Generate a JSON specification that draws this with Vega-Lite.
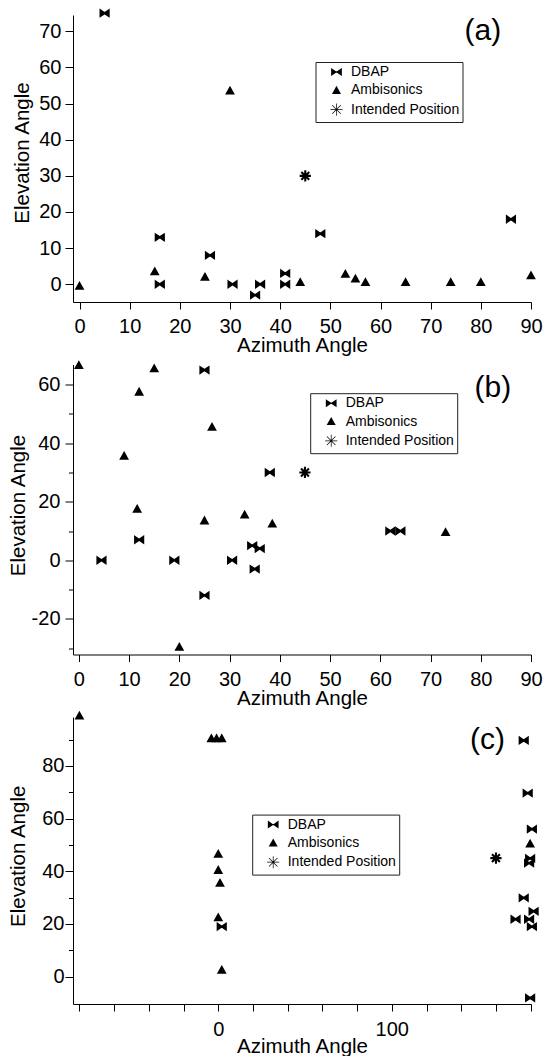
{
  "$schema": "https://vega.github.io/schema/vega-lite/v6.json",
  "padding": {"left": 7, "top": 6, "right": 0, "bottom": 0},
  "datasets": {
    "pts": [
      {"panel": "a", "method": "DBAP", "azimuth": 5, "elevation": 75},
      {"panel": "a", "method": "DBAP", "azimuth": 16, "elevation": 13},
      {"panel": "a", "method": "DBAP", "azimuth": 16, "elevation": 0},
      {"panel": "a", "method": "DBAP", "azimuth": 26, "elevation": 8},
      {"panel": "a", "method": "DBAP", "azimuth": 30.5, "elevation": 0},
      {"panel": "a", "method": "DBAP", "azimuth": 35, "elevation": -3},
      {"panel": "a", "method": "DBAP", "azimuth": 36, "elevation": 0},
      {"panel": "a", "method": "DBAP", "azimuth": 41, "elevation": 3},
      {"panel": "a", "method": "DBAP", "azimuth": 41, "elevation": 0},
      {"panel": "a", "method": "DBAP", "azimuth": 48, "elevation": 14},
      {"panel": "a", "method": "DBAP", "azimuth": 86, "elevation": 18},
      {"panel": "a", "method": "Ambisonics", "azimuth": 0, "elevation": -0.5},
      {"panel": "a", "method": "Ambisonics", "azimuth": 15, "elevation": 3.5},
      {"panel": "a", "method": "Ambisonics", "azimuth": 25, "elevation": 2},
      {"panel": "a", "method": "Ambisonics", "azimuth": 30, "elevation": 53.5},
      {"panel": "a", "method": "Ambisonics", "azimuth": 44, "elevation": 0.5},
      {"panel": "a", "method": "Ambisonics", "azimuth": 53, "elevation": 2.8},
      {"panel": "a", "method": "Ambisonics", "azimuth": 55, "elevation": 1.5},
      {"panel": "a", "method": "Ambisonics", "azimuth": 57, "elevation": 0.5},
      {"panel": "a", "method": "Ambisonics", "azimuth": 65, "elevation": 0.5},
      {"panel": "a", "method": "Ambisonics", "azimuth": 74, "elevation": 0.5},
      {"panel": "a", "method": "Ambisonics", "azimuth": 80, "elevation": 0.5},
      {"panel": "a", "method": "Ambisonics", "azimuth": 90, "elevation": 2.4},
      {"panel": "a", "method": "Intended Position", "azimuth": 45, "elevation": 30},
      {"panel": "b", "method": "DBAP", "azimuth": 25, "elevation": 65},
      {"panel": "b", "method": "DBAP", "azimuth": 38, "elevation": 30},
      {"panel": "b", "method": "DBAP", "azimuth": 12, "elevation": 7},
      {"panel": "b", "method": "DBAP", "azimuth": 4.5, "elevation": 0},
      {"panel": "b", "method": "DBAP", "azimuth": 19, "elevation": 0},
      {"panel": "b", "method": "DBAP", "azimuth": 30.5, "elevation": 0},
      {"panel": "b", "method": "DBAP", "azimuth": 34.5, "elevation": 5},
      {"panel": "b", "method": "DBAP", "azimuth": 36, "elevation": 4},
      {"panel": "b", "method": "DBAP", "azimuth": 35, "elevation": -3},
      {"panel": "b", "method": "DBAP", "azimuth": 25, "elevation": -12},
      {"panel": "b", "method": "DBAP", "azimuth": 62, "elevation": 10},
      {"panel": "b", "method": "DBAP", "azimuth": 64, "elevation": 10},
      {"panel": "b", "method": "Ambisonics", "azimuth": 0, "elevation": 66.6},
      {"panel": "b", "method": "Ambisonics", "azimuth": 15, "elevation": 65.5},
      {"panel": "b", "method": "Ambisonics", "azimuth": 12, "elevation": 57.5},
      {"panel": "b", "method": "Ambisonics", "azimuth": 26.5, "elevation": 45.5},
      {"panel": "b", "method": "Ambisonics", "azimuth": 9, "elevation": 35.6},
      {"panel": "b", "method": "Ambisonics", "azimuth": 11.6, "elevation": 17.5},
      {"panel": "b", "method": "Ambisonics", "azimuth": 25, "elevation": 13.5},
      {"panel": "b", "method": "Ambisonics", "azimuth": 33, "elevation": 15.5},
      {"panel": "b", "method": "Ambisonics", "azimuth": 38.5, "elevation": 12.4},
      {"panel": "b", "method": "Ambisonics", "azimuth": 73, "elevation": 9.5},
      {"panel": "b", "method": "Ambisonics", "azimuth": 20, "elevation": -29.7},
      {"panel": "b", "method": "Intended Position", "azimuth": 45, "elevation": 30},
      {"panel": "c", "method": "DBAP", "azimuth": 2, "elevation": 19},
      {"panel": "c", "method": "DBAP", "azimuth": 176, "elevation": 89.7},
      {"panel": "c", "method": "DBAP", "azimuth": 178.3, "elevation": 69.7},
      {"panel": "c", "method": "DBAP", "azimuth": 180.7, "elevation": 56},
      {"panel": "c", "method": "DBAP", "azimuth": 179.7, "elevation": 44.9},
      {"panel": "c", "method": "DBAP", "azimuth": 179.1, "elevation": 43.1},
      {"panel": "c", "method": "DBAP", "azimuth": 176, "elevation": 29.9},
      {"panel": "c", "method": "DBAP", "azimuth": 181.7, "elevation": 24.8},
      {"panel": "c", "method": "DBAP", "azimuth": 171.3, "elevation": 21.8},
      {"panel": "c", "method": "DBAP", "azimuth": 179.1, "elevation": 21.8},
      {"panel": "c", "method": "DBAP", "azimuth": 180.7, "elevation": 19},
      {"panel": "c", "method": "DBAP", "azimuth": 179.7, "elevation": -8.1},
      {"panel": "c", "method": "Ambisonics", "azimuth": -80, "elevation": 99},
      {"panel": "c", "method": "Ambisonics", "azimuth": -4, "elevation": 90.4},
      {"panel": "c", "method": "Ambisonics", "azimuth": -1, "elevation": 90.4},
      {"panel": "c", "method": "Ambisonics", "azimuth": 2, "elevation": 90.4},
      {"panel": "c", "method": "Ambisonics", "azimuth": 0, "elevation": 46.5},
      {"panel": "c", "method": "Ambisonics", "azimuth": 0, "elevation": 40.4},
      {"panel": "c", "method": "Ambisonics", "azimuth": 1, "elevation": 35.5},
      {"panel": "c", "method": "Ambisonics", "azimuth": 0, "elevation": 22.4},
      {"panel": "c", "method": "Ambisonics", "azimuth": 2, "elevation": 2.5},
      {"panel": "c", "method": "Ambisonics", "azimuth": 179.7, "elevation": 50.4},
      {"panel": "c", "method": "Intended Position", "azimuth": 160, "elevation": 45}
    ]
  },
  "spacing": 62.5,
  "bounds": "flush",
  "resolve": {"scale": {"shape": "independent"}, "legend": {"shape": "independent"}},
  "vconcat": [
    {
      "width": 458, "height": 287,
      "resolve": {"axis": {"x": "independent", "y": "independent"}},
      "layer": [
        {
          "data": {"name": "pts"},
          "transform": [{"filter": "datum.panel == 'a'"}],
          "mark": {"type": "point", "filled": true, "color": "black", "stroke": "black", "strokeWidth": 1.5, "opacity": 1, "size": 52},
          "encoding": {
            "x": {"field": "azimuth", "type": "quantitative", "scale": {"domain": [-1.3, 90], "nice": false, "zero": false},
                  "axis": {"title": "Azimuth Angle", "values": [0,10,20,30,40,50,60,70,80,90], "labelPadding": 23.5, "labelBaseline": "alphabetic", "titleBaseline": "alphabetic", "titleY": 49.5}},
            "y": {"field": "elevation", "type": "quantitative", "scale": {"domain": [-4.9, 74.5], "nice": false, "zero": false},
                  "axis": {"title": "Elevation Angle", "values": [0,10,20,30,40,50,60,70], "tickSize": 8, "labelPadding": 4, "titleBaseline": "alphabetic", "titleX": -45, "titleY": 137.5}},
            "shape": {"field": "method", "type": "nominal",
              "scale": {"domain": ["DBAP", "Ambisonics", "Intended Position"],
                        "range": ["M-1.2,-0.9L-0.12,-0.16L0.12,-0.16L1.2,-0.9L1.2,0.9L0.12,0.16L-0.12,0.16L-1.2,0.9Z", "M0,-1L1,0.8L-1,0.8Z", "M-1.35,-0.08L1.35,-0.08L1.35,0.08L-1.35,0.08ZM-0.08,-1.35L0.08,-1.35L0.08,1.35L-0.08,1.35ZM-0.894,-1.006L1.006,0.894L0.894,1.006L-1.006,-0.894ZM-1.006,0.894L0.894,-1.006L1.006,-0.894L-0.894,1.006Z"]},
              "legend": {"orient": "none", "legendX": 242.5, "legendY": 47,
                         "encode": {"symbols": {"update": {"stroke": {"value": "black"}, "strokeWidth": {"value": 1.5}, "fill": {"value": "black"}, "opacity": {"value": 1}}}}}}
          }
        },
        {
          "data": {"values": [{}]},
          "mark": {"type": "text", "fontSize": 30, "font": "Liberation Sans", "align": "center", "baseline": "middle", "color": "black"},
          "encoding": {
            "x": {"datum": 80.4, "type": "quantitative", "axis": null},
            "y": {"datum": 70.1, "type": "quantitative", "axis": null},
            "text": {"value": "(a)"}
          }
        }
      ]
    },
    {
      "width": 458, "height": 290,
      "resolve": {"axis": {"x": "independent", "y": "independent"}},
      "layer": [
        {
          "data": {"name": "pts"},
          "transform": [{"filter": "datum.panel == 'b'"}],
          "mark": {"type": "point", "filled": true, "color": "black", "stroke": "black", "strokeWidth": 1.5, "opacity": 1, "size": 52},
          "encoding": {
            "x": {"field": "azimuth", "type": "quantitative", "scale": {"domain": [-1.17, 90], "nice": false, "zero": false},
                  "axis": {"title": "Azimuth Angle", "values": [0,10,20,30,40,50,60,70,80,90], "labelPadding": 23.5, "labelBaseline": "alphabetic", "titleBaseline": "alphabetic", "titleY": 49.5}},
            "y": {"field": "elevation", "type": "quantitative", "scale": {"domain": [-32.2, 66.9], "nice": false, "zero": false},
                  "axis": {"title": "Elevation Angle", "values": [-20,0,20,40,60], "labelExpr": "replace(datum.label, '\u2212', '-')", "tickSize": 8, "labelPadding": 5, "titleBaseline": "alphabetic", "titleX": -49, "titleY": 140.5}},
            "shape": {"field": "method", "type": "nominal",
              "scale": {"domain": ["DBAP", "Ambisonics", "Intended Position"],
                        "range": ["M-1.2,-0.9L-0.12,-0.16L0.12,-0.16L1.2,-0.9L1.2,0.9L0.12,0.16L-0.12,0.16L-1.2,0.9Z", "M0,-1L1,0.8L-1,0.8Z", "M-1.35,-0.08L1.35,-0.08L1.35,0.08L-1.35,0.08ZM-0.08,-1.35L0.08,-1.35L0.08,1.35L-0.08,1.35ZM-0.894,-1.006L1.006,0.894L0.894,1.006L-1.006,-0.894ZM-1.006,0.894L0.894,-1.006L1.006,-0.894L-0.894,1.006Z"]},
              "legend": {"orient": "none", "legendX": 237.2, "legendY": 28.7,
                         "encode": {"symbols": {"update": {"stroke": {"value": "black"}, "strokeWidth": {"value": 1.5}, "fill": {"value": "black"}, "opacity": {"value": 1}}}}}}
          }
        },
        {
          "data": {"name": "pts"},
          "transform": [{"filter": "datum.panel == 'b'"}],
          "mark": {"type": "point", "opacity": 0},
          "encoding": {
            "x": {"field": "azimuth", "type": "quantitative", "axis": null},
            "y": {"field": "elevation", "type": "quantitative",
                  "axis": {"orient": "left", "title": null, "values": [-30,-10,10,30,50], "labels": false, "domain": false, "tickSize": 4.5}}
          }
        },
        {
          "data": {"values": [{}]},
          "mark": {"type": "text", "fontSize": 30, "font": "Liberation Sans", "align": "center", "baseline": "middle", "color": "black"},
          "encoding": {
            "x": {"datum": 82.4, "type": "quantitative", "axis": null},
            "y": {"datum": 58.7, "type": "quantitative", "axis": null},
            "text": {"value": "(b)"}
          }
        }
      ]
    },
    {
      "width": 458, "height": 287,
      "resolve": {"axis": {"x": "independent", "y": "independent"}},
      "layer": [
        {
          "data": {"name": "pts"},
          "transform": [{"filter": "datum.panel == 'c'"}],
          "mark": {"type": "point", "filled": true, "color": "black", "stroke": "black", "strokeWidth": 1.5, "opacity": 1, "size": 52},
          "encoding": {
            "x": {"field": "azimuth", "type": "quantitative", "scale": {"domain": [-83.7, 180.2], "nice": false, "zero": false},
                  "axis": {"title": "Azimuth Angle", "values": [-80,-60,-40,-20,0,20,40,60,80,100,120,140,160,180], "labelExpr": "datum.value == 0 || datum.value == 100 ? datum.label : ''", "labelPadding": 24, "labelBaseline": "alphabetic", "titleBaseline": "alphabetic", "titleY": 48.5}},
            "y": {"field": "elevation", "type": "quantitative", "scale": {"domain": [-10.4, 98.6], "nice": false, "zero": false},
                  "axis": {"title": "Elevation Angle", "values": [0,20,40,60,80], "tickSize": 8, "labelPadding": 1, "titleBaseline": "alphabetic", "titleX": -49, "titleY": 138.8}},
            "shape": {"field": "method", "type": "nominal",
              "scale": {"domain": ["DBAP", "Ambisonics", "Intended Position"],
                        "range": ["M-1.2,-0.9L-0.12,-0.16L0.12,-0.16L1.2,-0.9L1.2,0.9L0.12,0.16L-0.12,0.16L-1.2,0.9Z", "M0,-1L1,0.8L-1,0.8Z", "M-1.35,-0.08L1.35,-0.08L1.35,0.08L-1.35,0.08ZM-0.08,-1.35L0.08,-1.35L0.08,1.35L-0.08,1.35ZM-0.894,-1.006L1.006,0.894L0.894,1.006L-1.006,-0.894ZM-1.006,0.894L0.894,-1.006L1.006,-0.894L-0.894,1.006Z"]},
              "legend": {"orient": "none", "legendX": 179.2, "legendY": 97.6,
                         "encode": {"symbols": {"update": {"stroke": {"value": "black"}, "strokeWidth": {"value": 1.5}, "fill": {"value": "black"}, "opacity": {"value": 1}}}}}}
          }
        },
        {
          "data": {"name": "pts"},
          "transform": [{"filter": "datum.panel == 'c'"}],
          "mark": {"type": "point", "opacity": 0},
          "encoding": {
            "x": {"field": "azimuth", "type": "quantitative", "axis": null},
            "y": {"field": "elevation", "type": "quantitative",
                  "axis": {"orient": "left", "title": null, "values": [10,30,50,70,90], "labels": false, "domain": false, "tickSize": 4.5}}
          }
        },
        {
          "data": {"values": [{}]},
          "mark": {"type": "text", "fontSize": 30, "font": "Liberation Sans", "align": "center", "baseline": "middle", "color": "black"},
          "encoding": {
            "x": {"datum": 155.1, "type": "quantitative", "axis": null},
            "y": {"datum": 89.8, "type": "quantitative", "axis": null},
            "text": {"value": "(c)"}
          }
        }
      ]
    }
  ],
  "config": {
    "view": {"stroke": null},
    "font": "Liberation Sans",
    "axis": {"grid": false, "domainColor": "black", "tickColor": "black", "labelColor": "black", "titleColor": "black",
             "labelFont": "Liberation Sans", "titleFont": "Liberation Sans", "labelFontSize": 20, "titleFontSize": 20.5,
             "titleFontWeight": "normal", "tickSize": 7, "domainWidth": 1, "tickWidth": 1, "labelFlush": false, "labelOverlap": false},
    "legend": {"title": null, "strokeColor": "#222222", "strokeWidth": 1, "padding": 3, "labelFont": "Liberation Sans",
               "labelFontSize": 14, "labelColor": "black", "symbolSize": 80, "symbolOffset": 11, "labelOffset": 7.5,
               "rowPadding": 2.3, "fillColor": "white",
               "symbolFillColor": "black", "symbolStrokeColor": "black", "symbolStrokeWidth": 1.5, "symbolOpacity": 1}
  }
}
